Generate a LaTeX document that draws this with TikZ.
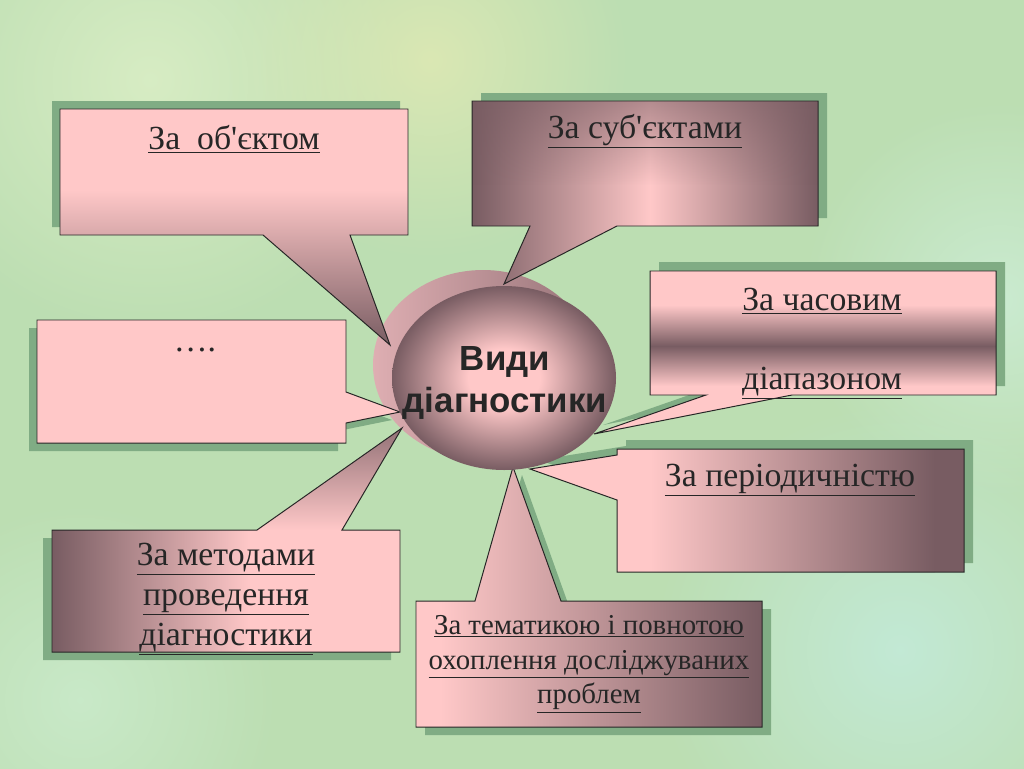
\documentclass[tikz,border=0pt]{standalone}
\usepackage{fontspec}
\setmainfont{Liberation Serif}
\newfontfamily\headfont{Liberation Sans}
\usetikzlibrary{shapes.geometric, fadings}

\definecolor{bgGreen}{RGB}{188,222,178}
\definecolor{shadowGreen}{RGB}{128,172,132}
\definecolor{pinkLight}{RGB}{255,200,200}
\definecolor{mauveDark}{RGB}{120,92,98}
\definecolor{backLight}{RGB}{222,174,178}
\definecolor{backDark}{RGB}{150,115,120}
\definecolor{inkGrey}{RGB}{38,38,38}
\definecolor{spotA}{RGB}{222,240,200}
\definecolor{spotB}{RGB}{226,234,180}
\definecolor{spotC}{RGB}{196,236,222}
\definecolor{spotD}{RGB}{206,238,216}
\definecolor{spotE}{RGB}{204,236,206}

\pgfdeclareradialshading{orb}{\pgfpoint{0bp}{0bp}}{color(0bp)=(pinkLight); color(8bp)=(pinkLight); color(25bp)=(mauveDark); color(50bp)=(mauveDark)}
\tikzfading[name=softblob, inner color=transparent!20, outer color=transparent!100]
\tikzfading[name=fadedown, top color=transparent!45, bottom color=transparent!100]

% callout outlines, in pixels of the slide
\def\objShape{(60,109) -- (408,109) -- (408,235) -- (350,235) -- (390,345) -- (263,235) -- (60,235) -- cycle}
\def\subjShape{(472,101) -- (818,101) -- (818,226) -- (617,226) -- (504,284) -- (530,226) -- (472,226) -- cycle}
\def\timeShape{(650,271) -- (996,271) -- (996,395) -- (792,395) -- (594,434) -- (706,395) -- (650,395) -- cycle}
\def\periodShape{(617,449) -- (964,449) -- (964,572) -- (617,572) -- (617,500) -- (530,469) -- (617,455) -- cycle}
\def\themeShape{(416,601) -- (475,601) -- (513,467) -- (561,601) -- (762,601) -- (762,727) -- (416,727) -- cycle}
\def\methodShape{(52,530) -- (257,530) -- (402,428) -- (342,530) -- (400,530) -- (400,652) -- (52,652) -- cycle}
\def\dotsShape{(37,320) -- (346,320) -- (346,392) -- (400,412) -- (346,423) -- (346,443) -- (37,443) -- cycle}

\begin{document}
\begin{tikzpicture}[x=0.25mm, y=-0.25mm]
    \tikzstyle{shadow} = [fill=shadowGreen]
    \tikzstyle{outline} = [draw=inkGrey, line width=0.7pt]
    \tikzstyle{boxtext} = [text=inkGrey, align=center, font=\fontsize{24}{28.3}\selectfont]
    \tikzstyle{smalltext} = [text=inkGrey, align=center, font=\fontsize{20.5}{24.8}\selectfont]
    \tikzstyle{blob} = [path fading=softblob]

    % background
    \useasboundingbox (0,0) rectangle (1024,768);
    \fill[bgGreen] (-4,-4) rectangle (1028,772);
    \fill[blob, fill=spotA] (150,80) circle (65mm);
    \fill[blob, fill=spotB] (430,60) circle (50mm);
    \fill[blob, fill=spotC] (900,650) circle (62mm);
    \fill[blob, fill=spotD] (1000,300) circle (50mm);
    \fill[blob, fill=spotE] (80,700) circle (50mm);

    % back of the centre disc
    \shade[left color=backLight, right color=backDark] (483,365) ellipse [x radius=27.5mm, y radius=23.75mm];

    % shadows
    \fill[shadow, shift={(-8,-8)}] \objShape;
    \fill[shadow, shift={(9,-8)}] \subjShape;
    \fill[shadow, shift={(9,-9)}] \timeShape;
    \fill[shadow, shift={(9,-9)}] \periodShape;
    \fill[shadow, shift={(9,8)}] \themeShape;
    \fill[shadow, shift={(-9,8)}] \methodShape;
    \fill[shadow, shift={(-8,8)}] \dotsShape;

    % За об'єктом
    \begin{scope}
        \clip \objShape;
        \fill[pinkLight] (60,109) rectangle (408,190);
        \shade[top color=pinkLight, bottom color=mauveDark] (60,190) rectangle (408,346);
    \end{scope}
    \draw[outline] \objShape;

    % За суб'єктами
    \begin{scope}
        \clip \subjShape;
        \shade[left color=mauveDark, right color=pinkLight] (472,101) rectangle (650,285);
        \shade[left color=pinkLight, right color=mauveDark] (650,101) rectangle (818,285);
        \fill[mauveDark, path fading=fadedown] (472,101) rectangle (818,185);
    \end{scope}
    \draw[outline] \subjShape;

    % За часовим діапазоном
    \begin{scope}
        \clip \timeShape;
        \fill[pinkLight] (594,271) rectangle (996,305);
        \shade[top color=pinkLight, bottom color=mauveDark] (594,305) rectangle (996,346);
        \shade[top color=mauveDark, bottom color=pinkLight] (594,346) rectangle (996,386);
        \fill[pinkLight] (594,386) rectangle (996,435);
    \end{scope}
    \draw[outline] \timeShape;

    % За періодичністю
    \begin{scope}
        \clip \periodShape;
        \fill[pinkLight] (530,449) rectangle (650,572);
        \shade[left color=pinkLight, right color=mauveDark] (650,449) rectangle (935,572);
        \fill[mauveDark] (935,449) rectangle (964,572);
    \end{scope}
    \draw[outline] \periodShape;

    % За тематикою
    \begin{scope}
        \clip \themeShape;
        \fill[pinkLight] (416,467) rectangle (440,727);
        \shade[left color=pinkLight, right color=mauveDark] (440,467) rectangle (762,727);
    \end{scope}
    \draw[outline] \themeShape;

    % За методами
    \begin{scope}
        \clip \methodShape;
        \fill[pinkLight] (52,428) rectangle (402,652);
        \shade[left color=mauveDark, right color=pinkLight] (52,530) rectangle (250,652);
        \shade[top color=mauveDark!80!pinkLight, bottom color=pinkLight] (257,428) rectangle (402,530);
    \end{scope}
    \draw[outline] \methodShape;

    % ....
    \fill[pinkLight] \dotsShape;
    \draw[outline] \dotsShape;

    % centre disc
    \node[ellipse, shading=orb, minimum width=56mm, minimum height=46mm, inner sep=0pt] (vydy) at (504,378) {};
    \node[text=inkGrey, align=center, font=\headfont\bfseries\fontsize{24.8}{30}\selectfont]
        (vydyLabel) at (505,383) {Види\\діагностики};

    % labels
    \node[boxtext] (objLabel) at (234,139) {\underline{За\ \ об\textquotesingle єктом}};
    \node[boxtext] (subjLabel) at (645,131) {\underline{За суб\textquotesingle єктами}};
    \node[boxtext] (timeTop) at (822,301) {\underline{За часовим}};
    \node[boxtext] (timeBottom) at (822,383) {\underline{діапазоном}};
    \node[boxtext] (periodLabel) at (790,480) {\underline{За періодичністю}};
    \node[boxtext] (methodLabel) at (226,599) {\underline{За методами}\\\underline{проведення}\\\underline{діагностики}};
    \node[smalltext] (themeLabel) at (589,664) {\underline{За тематикою і повнотою}\\\underline{охоплення досліджуваних}\\\underline{проблем}};
    \node[boxtext] (dotsLabel) at (195,350) {….};
\end{tikzpicture}
\end{document}
